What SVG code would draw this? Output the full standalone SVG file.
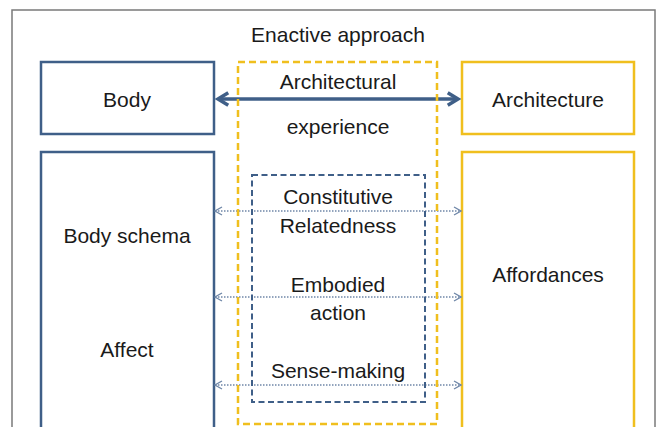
<svg xmlns="http://www.w3.org/2000/svg" width="667" height="427" viewBox="0 0 667 427">
<defs>
<style>
text{font-family:"Liberation Sans",Arial,sans-serif;font-size:21px;fill:#1a1a1a;text-anchor:middle}
.blue{fill:#fff;stroke:#3f5f88;stroke-width:2.5}
.yel{fill:#fff;stroke:#f0bf1e;stroke-width:2.5}
.dot{stroke:#6f87a8;stroke-width:1.4;stroke-dasharray:1.5 1.5;fill:none}
</style>
<marker id="big" viewBox="0 0 10 10" refX="8" refY="5" markerWidth="4.5" markerHeight="4.5" orient="auto-start-reverse" markerUnits="strokeWidth">
<path d="M1.5,1 L8,5 L1.5,9" fill="none" stroke="#3f5f88" stroke-width="2.2"/>
</marker>
<marker id="sm" viewBox="0 0 10 10" refX="9" refY="5" markerWidth="10" markerHeight="10" orient="auto-start-reverse" markerUnits="userSpaceOnUse">
<path d="M2,1 L9,5 L2,9" fill="none" stroke="#6f87a8" stroke-width="1.3"/>
</marker>
</defs>
<rect x="0" y="0" width="667" height="427" fill="#fff"/>
<rect x="12" y="10" width="643" height="430" fill="none" stroke="#7a7a7a" stroke-width="1.5"/>
<text x="338" y="42">Enactive approach</text>
<g id="body"><rect class="blue" x="41" y="62" width="173" height="72"/><text x="127" y="107">Body</text></g>
<g id="left"><rect class="blue" x="41" y="152" width="173" height="290"/><text x="127" y="243">Body schema</text><text x="127" y="357">Affect</text></g>
<g id="architecture"><rect class="yel" x="462" y="62" width="172" height="72"/><text x="548" y="107">Architecture</text></g>
<g id="right"><rect class="yel" x="462" y="152" width="172" height="290"/><text x="548" y="282">Affordances</text></g>
<g id="connectors">
<line x1="218" y1="99" x2="458" y2="99" stroke="#3f5f88" stroke-width="3.5" marker-start="url(#big)" marker-end="url(#big)"/>
<line class="dot" x1="215" y1="211" x2="461" y2="211" marker-start="url(#sm)" marker-end="url(#sm)"/>
<line class="dot" x1="215" y1="297" x2="461" y2="297" marker-start="url(#sm)" marker-end="url(#sm)"/>
<line class="dot" x1="215" y1="385" x2="461" y2="385" marker-start="url(#sm)" marker-end="url(#sm)"/>
</g>
<g id="experience"><rect x="238" y="62" width="199" height="362" fill="none" stroke="#f0bf1e" stroke-width="2.5" stroke-dasharray="7 4"/><text x="338" y="89">Architectural</text><text x="338" y="134">experience</text></g>
<g id="inner"><rect x="252" y="175" width="173" height="227" fill="none" stroke="#3f5f88" stroke-width="2" stroke-dasharray="6 3.5"/>
<text x="338" y="204">Constitutive</text><text x="338" y="233">Relatedness</text>
<text x="338" y="292">Embodied</text><text x="338" y="320">action</text>
<text x="338" y="378">Sense-making</text></g>
</svg>
